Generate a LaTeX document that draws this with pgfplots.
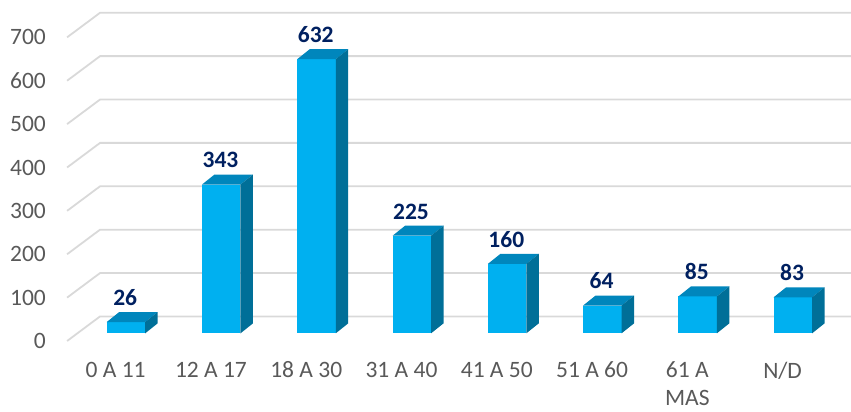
\documentclass[border=0pt]{standalone}
\usepackage{pgfplots}
\pgfplotsset{compat=1.18}
\usepackage{pgfplotstable}
\usepackage{fontspec}
\setmainfont{Carlito}
\definecolor{front}{HTML}{00B0F0}
\definecolor{topc}{HTML}{0086BC}
\definecolor{sidec}{HTML}{006F98}
\definecolor{gridc}{HTML}{D9D9D9}
\definecolor{lab}{HTML}{002060}
\definecolor{tickc}{HTML}{595959}

\pgfplotstableread{
x v
0 26
1 343
2 632
3 225
4 160
5 64
6 85
7 83
}\datatable

\begin{document}
\begin{tikzpicture}
\begin{axis}[
 x=95.3pt, y=0.4339pt,
 xmin=-1.213, xmax=7.717, ymin=-161.3, ymax=785.9,
 axis line style={draw=none},
 major tick length=0pt,
 xtick={0,...,7},
 xticklabels={0 A 11, 12 A 17, 18 A 30, 31 A 40, 41 A 50, 51 A 60, {61 A\\MAS}, N/D},
 ytick={0,100,...,700},
 /pgf/number format/assume math mode=true,
 ticklabel style={font=\fontsize{23.5}{27.5}\selectfont, text=tickc},
 yticklabel style={anchor=east, inner sep=0pt, xshift=46pt},
 xticklabel style={anchor=north, inner sep=0pt, yshift=49.3pt, align=center},
 clip=true,
]
\addplot[gridc, line width=1.8pt] coordinates {(-0.51,0) (-0.1637,56.7) (7.8,56.7)};
\addplot[gridc, line width=1.8pt] coordinates {(-0.51,100) (-0.1637,156.7) (7.8,156.7)};
\addplot[gridc, line width=1.8pt] coordinates {(-0.51,200) (-0.1637,256.7) (7.8,256.7)};
\addplot[gridc, line width=1.8pt] coordinates {(-0.51,300) (-0.1637,356.7) (7.8,356.7)};
\addplot[gridc, line width=1.8pt] coordinates {(-0.51,400) (-0.1637,456.7) (7.8,456.7)};
\addplot[gridc, line width=1.8pt] coordinates {(-0.51,500) (-0.1637,556.7) (7.8,556.7)};
\addplot[gridc, line width=1.8pt] coordinates {(-0.51,600) (-0.1637,656.7) (7.8,656.7)};
\addplot[gridc, line width=1.8pt] coordinates {(-0.51,700) (-0.1637,756.7) (7.8,756.7)};

\pgfplotsforeachungrouped \i in {0,...,7}{%
 \pgfplotstablegetelem{\i}{v}\of\datatable
 \pgfmathsetmacro\v{\pgfplotsretval}%
 \pgfmathsetmacro\xl{\i-0.094}%
 \pgfmathsetmacro\xr{\i+0.310}%
 \pgfmathsetmacro\xlb{\xl+0.131}%
 \pgfmathsetmacro\xrb{\xr+0.131}%
 \pgfmathsetmacro\yt{17.7+\v}%
 \pgfmathsetmacro\ytb{\yt+23}%
 \edef\cmd{%
   \noexpand\addplot[fill=front, draw=none] coordinates {(\xl,17.7) (\xr,17.7) (\xr,\yt) (\xl,\yt)};
   \noexpand\addplot[fill=topc, draw=none] coordinates {(\xl,\yt) (\xr,\yt) (\xrb,\ytb) (\xlb,\ytb)};
   \noexpand\addplot[fill=sidec, draw=none] coordinates {(\xr,17.7) (\xrb,40.7) (\xrb,\ytb) (\xr,\yt)};
 }\cmd
}

\addplot[draw=none, mark=none, nodes near coords, point meta=explicit,
  every node near coord/.append style={anchor=base, font=\bfseries\fontsize{23.5}{28}\selectfont, text=lab, inner sep=0pt}]
  table[x expr=\thisrow{x}+0.1, y expr=\thisrow{v}+56, meta=v] {\datatable};
\end{axis}
\end{tikzpicture}
\end{document}
